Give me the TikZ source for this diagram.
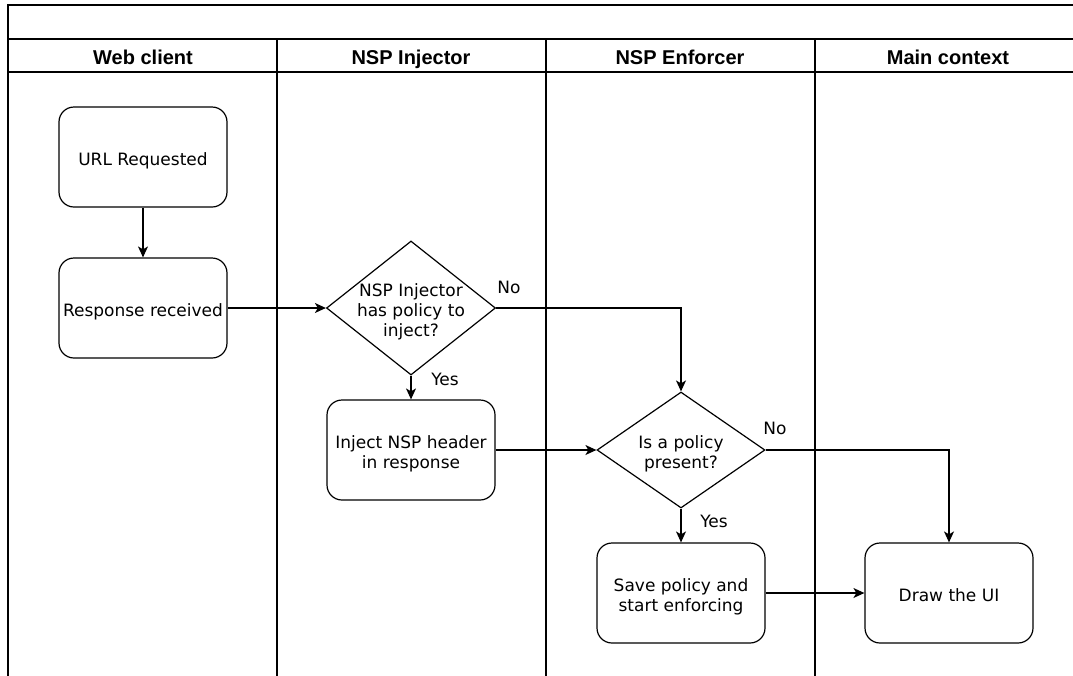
\documentclass[tikz,border=0pt]{standalone}
\usepackage{fontspec}
\setmainfont{DejaVu Sans}
\newfontfamily\hdrfont{Liberation Sans}
\usetikzlibrary{arrows.meta,shapes.geometric}
\begin{document}
\begin{tikzpicture}[x=1pt,y=-1pt,
  lane/.style={line width=1.8pt,line cap=rect},
  box/.style={draw,line width=1.2pt,rounded corners=15pt,minimum width=168pt,minimum height=100pt,inner sep=0pt},
  btext/.style={align=center,inner sep=0pt,font=\fontsize{17}{20}\selectfont,execute at begin node=\strut,execute at end node=\strut},
  dia/.style={draw,line width=1.2pt,diamond,inner sep=0pt},
  diatext/.style={align=center,inner sep=0pt,font=\fontsize{17}{20}\selectfont},
  hdr/.style={font=\hdrfont\bfseries\fontsize{20}{24}\selectfont,text height=15pt,text depth=0pt},
  lbl/.style={font=\fontsize{17}{20}\selectfont,inner sep=0pt},
  conn/.style={line width=1.2pt},
  arr/.style={conn,-{Stealth[length=11pt,width=10pt,inset=3pt]}}
]
\useasboundingbox (0,0) rectangle (1073,675);
% lanes
\draw[lane] (1073,5) -- (8,5) -- (8,675);
\draw[lane] (8,39) -- (1073,39);
\draw[lane] (8,72) -- (1073,72);
\draw[lane] (277,39) -- (277,675);
\draw[lane] (546,39) -- (546,675);
\draw[lane] (815,39) -- (815,675);
\node[hdr] (h1) at (143,57) {Web client};
\node[hdr] (h2) at (411,57) {NSP Injector};
\node[hdr] (h3) at (680,57) {NSP Enforcer};
\node[hdr] (h4) at (948,57) {Main context};
% nodes
\node[box] (url) at (143,157) {};
\node[btext] (urlt) at (143,161) {URL Requested};
\node[box] (resp) at (143,308) {};
\node[btext] (respt) at (143,312) {Response received};
\node[dia,minimum width=169pt,minimum height=134pt] (d1) at (411,308) {};
\node[diatext] (d1t) at (411,312) {NSP Injector\\has policy to\\inject?};
\node[box] (inj) at (411,450) {};
\node[btext] (injt) at (411,455) {Inject NSP header\\in response};
\node[dia,minimum width=168pt,minimum height=116pt] (d2) at (681,450) {};
\node[diatext] (d2t) at (681,454) {Is a policy\\present?};
\node[box] (save) at (681,593) {};
\node[btext] (savet) at (681,598) {Save policy and\\start enforcing};
\node[box] (ui) at (949,593) {};
\node[btext] (uit) at (949,597) {Draw the UI};
% connectors
\draw[arr] (url) -- (resp);
\draw[arr] (resp) -- (d1);
\draw[arr] (d1.east) -| (d2.north);
\draw[arr] (d1.south) -- (inj.north);
\draw[arr] (inj.east) -- (d2.west);
\draw[arr] (d2.east) -| (ui.north);
\draw[arr] (d2.south) -- (save.north);
\draw[arr] (save) -- (ui);
% labels
\node[lbl] (l1) at (509,287) {No};
\node[lbl] (l2) at (445,379) {Yes};
\node[lbl] (l3) at (775,428) {No};
\node[lbl] (l4) at (714,521) {Yes};
\end{tikzpicture}
\end{document}
